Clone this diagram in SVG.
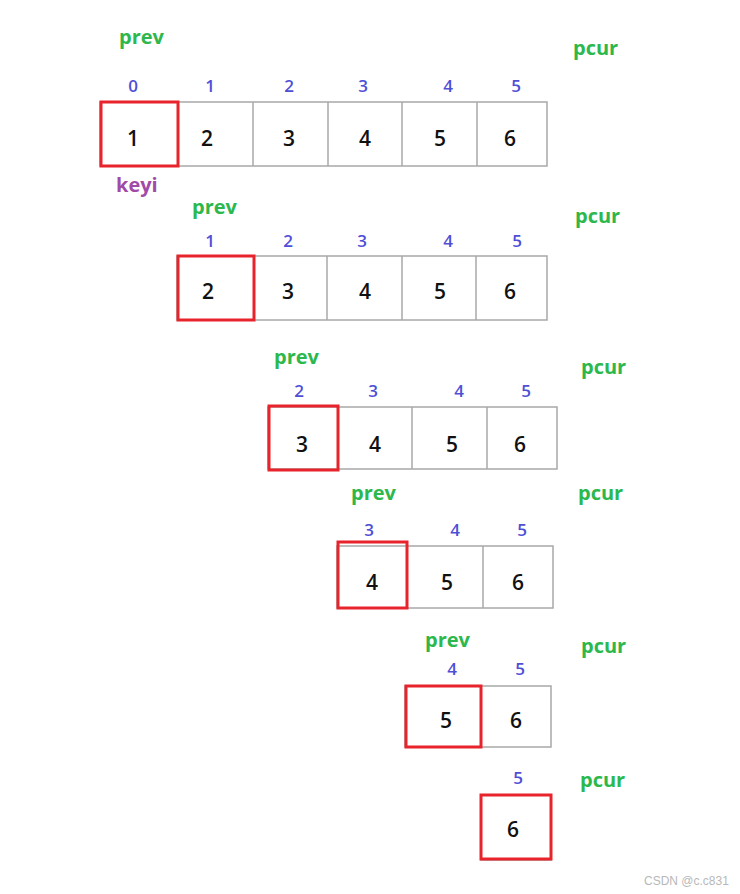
<svg xmlns="http://www.w3.org/2000/svg" width="740" height="894" viewBox="0 0 740 894">
<style>
.cell{fill:#fff;stroke:#a8a8a8;stroke-width:1.5}
.key{fill:none;stroke:#e8232b;stroke-width:3}
.lbl{font-family:"Open Sans","Noto Sans",sans-serif;font-weight:bold;font-size:20px;fill:#2cb84c}
.keyi{font-family:"Open Sans","Noto Sans",sans-serif;font-weight:bold;font-size:20px;fill:#a24aa8}
.idx{font-family:"Open Sans","Noto Sans",sans-serif;font-weight:600;font-size:17px;fill:#4f4fd6;text-anchor:middle}
.val{font-family:"Open Sans","Noto Sans",sans-serif;font-weight:600;font-size:21px;fill:#111;text-anchor:middle}
.wm{font-family:"Liberation Sans",sans-serif;font-size:12px;fill:#b8b8b8}
</style>
<rect width="740" height="894" fill="#fff"/>

<g id="row1">
<rect class="cell" x="100" y="102" width="447" height="64"/>
<line class="cell" x1="253" y1="102" x2="253" y2="166"/>
<line class="cell" x1="328" y1="102" x2="328" y2="166"/>
<line class="cell" x1="402" y1="102" x2="402" y2="166"/>
<line class="cell" x1="477" y1="102" x2="477" y2="166"/>
<rect class="key" x="101" y="102" width="77" height="64"/>
<text class="lbl" x="119" y="44">prev</text>
<text class="lbl" x="573" y="55">pcur</text>
<text class="keyi" x="116" y="192">keyi</text>
<text class="idx" x="133" y="92">0</text>
<text class="idx" x="210" y="92">1</text>
<text class="idx" x="289" y="92">2</text>
<text class="idx" x="363" y="92">3</text>
<text class="idx" x="448" y="92">4</text>
<text class="idx" x="516" y="92">5</text>
<text class="val" x="133" y="146">1</text>
<text class="val" x="207" y="146">2</text>
<text class="val" x="289" y="146">3</text>
<text class="val" x="365" y="146">4</text>
<text class="val" x="440" y="146">5</text>
<text class="val" x="510" y="146">6</text>
</g>

<g id="row2">
<rect class="cell" x="177" y="256" width="370" height="64"/>
<line class="cell" x1="327" y1="256" x2="327" y2="320"/>
<line class="cell" x1="402" y1="256" x2="402" y2="320"/>
<line class="cell" x1="476" y1="256" x2="476" y2="320"/>
<rect class="key" x="178" y="256" width="76" height="64"/>
<text class="lbl" x="192" y="214">prev</text>
<text class="lbl" x="575" y="223">pcur</text>
<text class="idx" x="210" y="247">1</text>
<text class="idx" x="288" y="247">2</text>
<text class="idx" x="362" y="247">3</text>
<text class="idx" x="448" y="247">4</text>
<text class="idx" x="517" y="247">5</text>
<text class="val" x="208" y="299">2</text>
<text class="val" x="288" y="299">3</text>
<text class="val" x="365" y="299">4</text>
<text class="val" x="440" y="299">5</text>
<text class="val" x="510" y="299">6</text>
</g>

<g id="row3">
<rect class="cell" x="268" y="407" width="289" height="62"/>
<line class="cell" x1="412" y1="407" x2="412" y2="469"/>
<line class="cell" x1="487" y1="407" x2="487" y2="469"/>
<rect class="key" x="269" y="406" width="69" height="64"/>
<text class="lbl" x="274" y="364">prev</text>
<text class="lbl" x="581" y="374">pcur</text>
<text class="idx" x="299" y="397">2</text>
<text class="idx" x="373" y="397">3</text>
<text class="idx" x="459" y="397">4</text>
<text class="idx" x="526" y="397">5</text>
<text class="val" x="302" y="452">3</text>
<text class="val" x="375" y="452">4</text>
<text class="val" x="452" y="452">5</text>
<text class="val" x="520" y="452">6</text>
</g>

<g id="row4">
<rect class="cell" x="337" y="546" width="216" height="62"/>
<line class="cell" x1="483" y1="546" x2="483" y2="608"/>
<rect class="key" x="338" y="542" width="69" height="66"/>
<text class="lbl" x="351" y="500">prev</text>
<text class="lbl" x="578" y="500">pcur</text>
<text class="idx" x="369" y="536">3</text>
<text class="idx" x="455" y="536">4</text>
<text class="idx" x="522" y="536">5</text>
<text class="val" x="372" y="590">4</text>
<text class="val" x="447" y="590">5</text>
<text class="val" x="518" y="590">6</text>
</g>

<g id="row5">
<rect class="cell" x="405" y="686" width="146" height="61"/>
<rect class="key" x="406" y="686" width="75" height="61"/>
<text class="lbl" x="425" y="647">prev</text>
<text class="lbl" x="581" y="653">pcur</text>
<text class="idx" x="452" y="675">4</text>
<text class="idx" x="520" y="675">5</text>
<text class="val" x="446" y="728">5</text>
<text class="val" x="516" y="728">6</text>
</g>

<g id="row6">
<rect class="cell" x="481" y="795" width="70" height="65"/>
<rect class="key" x="481" y="795" width="70" height="64"/>
<text class="lbl" x="580" y="787">pcur</text>
<text class="idx" x="518" y="784">5</text>
<text class="val" x="513" y="837">6</text>
</g>

<g id="connectors"></g>

<text class="wm" x="644" y="885">CSDN @c.c831</text>
</svg>
